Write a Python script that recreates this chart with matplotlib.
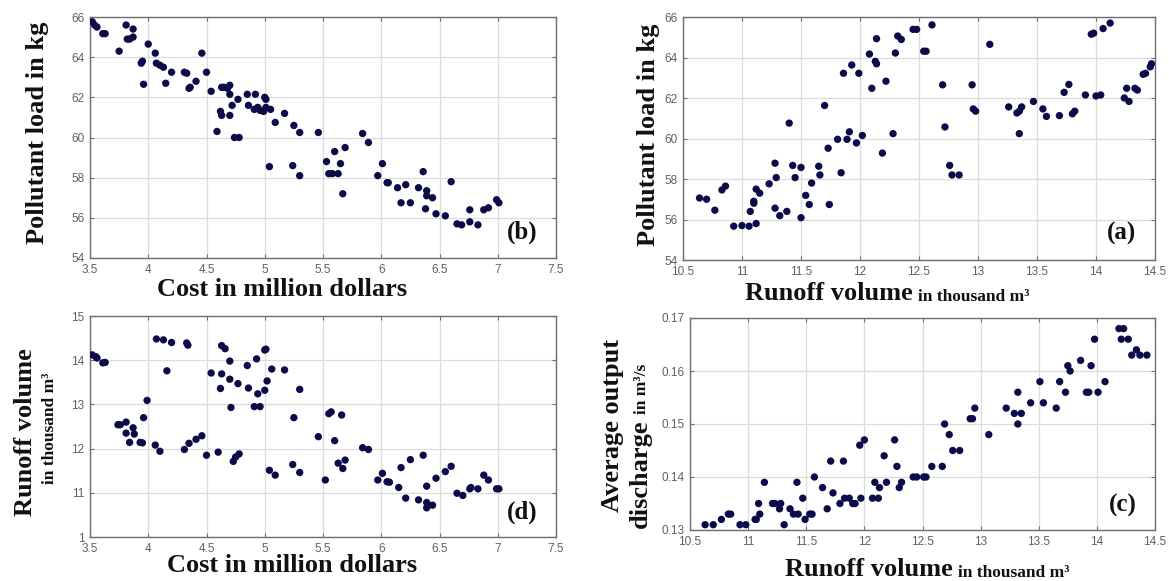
import matplotlib
matplotlib.use("Agg")
import matplotlib.pyplot as plt
from matplotlib.text import Annotation

# ---------------- data ----------------
# (b) Cost vs pollutant load
b_cost = [3.52, 3.54, 3.56, 3.61, 3.63, 3.75, 3.81, 3.82, 3.84, 3.87, 3.87, 3.94, 3.95, 3.96,
          4.00, 4.06, 4.07, 4.10, 4.13, 4.15, 4.20, 4.31, 4.33, 4.35, 4.36, 4.41, 4.46, 4.50,
          4.54, 4.59, 4.62, 4.63, 4.63, 4.65, 4.68, 4.70, 4.70, 4.70, 4.72, 4.74, 4.78, 4.77,
          4.85, 4.86, 4.92, 4.91, 4.94, 4.96, 4.99, 5.00, 5.01, 5.01, 5.04, 5.05, 5.09, 5.17,
          5.25, 5.24, 5.30, 5.30, 5.46, 5.53, 5.55, 5.58, 5.60, 5.63, 5.65, 5.67, 5.69, 5.84,
          5.89, 5.97, 6.01, 6.05, 6.06, 6.14, 6.17, 6.21, 6.25, 6.32, 6.36, 6.39, 6.39, 6.38,
          6.44, 6.47, 6.55, 6.60, 6.65, 6.69, 6.76, 6.76, 6.83, 6.88, 6.92, 6.99, 7.01]
b_load = [65.76, 65.6, 65.5, 65.17, 65.17, 64.3, 65.6, 64.9, 64.9, 65.4, 65.0, 63.7, 63.8, 62.65,
          64.65, 64.2, 63.7, 63.6, 63.5, 62.7, 63.25, 63.25, 63.2, 62.45, 62.5, 62.8, 64.2, 63.25,
          62.3, 60.3, 61.3, 61.1, 62.5, 62.5, 62.45, 62.6, 62.15, 61.1, 61.6, 60.0, 60.0, 61.9,
          62.15, 61.6, 62.15, 61.4, 61.5, 61.35, 61.3, 62.0, 61.9, 61.5, 58.55, 61.4, 60.75, 61.2,
          60.6, 58.6, 60.25, 58.1, 60.25, 58.8, 58.2, 58.2, 59.3, 58.2, 58.7, 57.2, 59.5, 60.2,
          59.75, 58.1, 58.7, 57.75, 57.75, 57.5, 56.75, 57.65, 56.75, 57.5, 58.3, 57.35, 57.1, 56.45,
          57.0, 56.2, 56.1, 57.8, 55.7, 55.65, 56.4, 55.8, 55.65, 56.4, 56.5, 56.9, 56.75]

# (a) Runoff volume vs pollutant load
a_runoff = [10.64, 10.70, 10.77, 10.83, 10.86, 10.93, 11.00, 11.06, 11.07, 11.10, 11.10, 11.12,
            11.12, 11.15, 11.23, 11.28, 11.28, 11.29, 11.32, 11.38, 11.40, 11.43, 11.45, 11.50,
            11.50, 11.54, 11.57, 11.59, 11.65, 11.66, 11.70, 11.73, 11.74, 11.81, 11.84, 11.86,
            11.89, 11.91, 11.93, 11.97, 11.99, 12.02, 12.08, 12.10, 12.13, 12.14, 12.14, 12.19,
            12.22, 12.28, 12.30, 12.32, 12.35, 12.45, 12.48, 12.54, 12.56, 12.61, 12.70, 12.72,
            12.76, 12.78, 12.84, 12.95, 12.96, 12.98, 13.10, 13.26, 13.33, 13.35, 13.35, 13.37,
            13.47, 13.55, 13.58, 13.69, 13.73, 13.77, 13.80, 13.82, 13.91, 13.96, 13.98, 14.00,
            14.04, 14.06, 14.12, 14.24, 14.26, 14.28, 14.33, 14.35, 14.40, 14.42, 14.46, 14.47]
a_load = [57.06, 57.0, 56.46, 57.46, 57.65, 55.67, 55.7, 55.67, 56.4, 56.8, 56.9, 55.8,
          57.5, 57.3, 57.76, 58.78, 56.56, 58.07, 56.19, 56.4, 60.76, 58.67, 58.07, 56.09,
          58.57, 57.19, 56.74, 57.8, 58.63, 58.2, 61.63, 59.52, 56.74, 59.96, 58.31, 63.22,
          59.96, 60.33, 63.63, 59.78, 63.22, 60.15, 64.17, 62.48, 63.81, 64.93, 63.69, 59.28,
          62.83, 60.24, 64.22, 65.06, 64.89, 65.39, 65.39, 64.31, 64.31, 65.61, 62.65, 60.57,
          58.67, 58.2, 58.2, 62.65, 61.46, 61.35, 64.65, 61.56, 61.26, 61.35, 60.24, 61.56,
          61.83, 61.46, 61.09, 61.13, 62.28, 62.67, 61.22, 61.35, 62.15, 65.15, 65.2, 62.1,
          62.15, 65.43, 65.7, 62.0, 62.48, 61.83, 62.48, 62.39, 63.17, 63.22, 63.54, 63.69]

# (d) Cost vs runoff volume
d_cost = [3.52, 3.55, 3.56, 3.61, 3.63, 3.74, 3.76, 3.81, 3.81, 3.84, 3.87, 3.88, 3.93, 3.95,
          3.96, 3.99, 4.06, 4.07, 4.10, 4.13, 4.16, 4.20, 4.31, 4.33, 4.34, 4.35, 4.41, 4.46,
          4.50, 4.54, 4.60, 4.62, 4.63, 4.63, 4.66, 4.70, 4.70, 4.71, 4.73, 4.75, 4.78, 4.77,
          4.85, 4.86, 4.91, 4.93, 4.94, 4.96, 5.00, 5.00, 5.01, 5.02, 5.04, 5.06, 5.09, 5.17,
          5.25, 5.24, 5.30, 5.30, 5.46, 5.52, 5.55, 5.57, 5.60, 5.63, 5.66, 5.67, 5.69, 5.84,
          5.89, 5.97, 6.01, 6.05, 6.07, 6.15, 6.17, 6.21, 6.25, 6.32, 6.36, 6.39, 6.39, 6.39,
          6.44, 6.47, 6.55, 6.60, 6.65, 6.70, 6.76, 6.77, 6.83, 6.88, 6.92, 6.99, 7.01]
d_runoff = [14.12, 14.08, 14.05, 13.94, 13.95, 12.54, 12.54, 12.6, 12.35, 12.14, 12.47, 12.33, 12.14, 12.13,
            12.7, 13.09, 12.08, 14.48, 11.94, 14.46, 13.76, 14.4, 11.98, 14.39, 14.34, 12.12, 12.21, 12.29,
            11.85, 13.71, 11.92, 13.36, 13.69, 14.33, 14.26, 13.98, 13.57, 12.93, 11.71, 11.81, 11.88, 13.47,
            13.88, 13.37, 12.95, 14.03, 13.24, 12.95, 13.32, 14.23, 14.25, 13.53, 11.51, 13.8, 11.4, 13.78,
            12.7, 11.64, 13.34, 11.46, 12.27, 11.29, 12.79, 12.83, 12.18, 11.67, 12.76, 11.55, 11.74, 12.02,
            11.98, 11.29, 11.44, 11.25, 11.24, 11.12, 11.57, 10.88, 11.75, 10.84, 11.85, 10.78, 11.15, 10.66,
            10.72, 11.33, 11.48, 11.6, 10.99, 10.94, 11.09, 11.12, 11.09, 11.4, 11.29, 11.09, 11.09]

# (c) Runoff volume vs average output discharge
c_runoff = [10.63, 10.70, 10.77, 10.83, 10.85, 10.93, 10.98, 11.06, 11.07, 11.09, 11.10, 11.14,
            11.21, 11.23, 11.27, 11.28, 11.31, 11.36, 11.39, 11.42, 11.43, 11.47, 11.49, 11.53,
            11.55, 11.57, 11.64, 11.68, 11.71, 11.73, 11.79, 11.82, 11.83, 11.87, 11.90, 11.92,
            11.97, 11.96, 12.00, 12.07, 12.09, 12.12, 12.13, 12.17, 12.19, 12.26, 12.28, 12.30,
            12.32, 12.42, 12.45, 12.51, 12.53, 12.58, 12.67, 12.69, 12.73, 12.76, 12.82, 12.91,
            12.93, 12.95, 13.07, 13.22, 13.29, 13.32, 13.32, 13.35, 13.43, 13.51, 13.54, 13.65,
            13.68, 13.73, 13.75, 13.77, 13.86, 13.91, 13.93, 13.95, 13.98, 14.01, 14.07, 14.19,
            14.23, 14.21, 14.27, 14.30, 14.34, 14.37, 14.43]
c_discharge = [0.131, 0.131, 0.132, 0.133, 0.133, 0.131, 0.131, 0.132, 0.132, 0.135, 0.133, 0.139,
               0.135, 0.135, 0.134, 0.135, 0.131, 0.134, 0.133, 0.139, 0.133, 0.136, 0.132, 0.133,
               0.133, 0.140, 0.138, 0.134, 0.143, 0.137, 0.135, 0.143, 0.136, 0.136, 0.135, 0.135,
               0.136, 0.146, 0.147, 0.136, 0.139, 0.136, 0.138, 0.144, 0.139, 0.147, 0.142, 0.138,
               0.139, 0.140, 0.140, 0.140, 0.140, 0.142, 0.142, 0.150, 0.148, 0.145, 0.145, 0.151,
               0.151, 0.153, 0.148, 0.153, 0.152, 0.156, 0.150, 0.152, 0.154, 0.158, 0.154, 0.153,
               0.158, 0.156, 0.161, 0.160, 0.162, 0.156, 0.156, 0.161, 0.166, 0.156, 0.158, 0.168,
               0.168, 0.166, 0.166, 0.163, 0.164, 0.163, 0.163]

cost_ticks = [3.5, 4, 4.5, 5, 5.5, 6, 6.5, 7, 7.5]
cost_ticklabels = ["3.5", "4", "4.5", "5", "5.5", "6", "6.5", "7", "7.5"]
runoff_ticks = [10.5, 11, 11.5, 12, 12.5, 13, 13.5, 14, 14.5]
runoff_ticklabels = ["10.5", "11", "11.5", "12", "12.5", "13", "13.5", "14", "14.5"]
load_ticks = [54, 56, 58, 60, 62, 64, 66]
load_ticklabels = ["54", "56", "58", "60", "62", "64", "66"]
vol_ticks = [10, 11, 12, 13, 14, 15]
vol_ticklabels = ["1", "11", "12", "13", "14", "15"]
dis_ticks = [0.13, 0.14, 0.15, 0.16, 0.17]
dis_ticklabels = ["0.13", "0.14", "0.15", "0.16", "0.17"]

# ---------------- style ----------------
W, H = 1169, 581
DOT = "#0b0b4a"
INK = "#111111"
SERIF = ["Liberation Serif", "DejaVu Serif"]
SANS = ["Liberation Sans", "DejaVu Sans"]
BIG = 19
SMALL = 12.5
MS = 28

fig = plt.figure(figsize=(W / 100, H / 100), dpi=100)
fig.patch.set_facecolor("white")


def frac(x0, y0, x1, y1):
    return [x0 / W, 1 - y1 / H, (x1 - x0) / W, (y1 - y0) / H]


def style_axes(ax, xlim, ylim, xt, xtl, yt, ytl, letter):
    ax.set_xlim(*xlim)
    ax.set_ylim(*ylim)
    ax.set_xticks(xt)
    ax.set_xticklabels(xtl)
    ax.set_yticks(yt)
    ax.set_yticklabels(ytl)
    ax.grid(True, color="#dcdcdc", linewidth=0.9)
    ax.set_axisbelow(True)
    for s in ax.spines.values():
        s.set_color("#6e6e6e")
        s.set_linewidth(1.0)
    ax.tick_params(direction="in", length=3, width=0.8, color="#6e6e6e",
                   top=True, right=True, labelsize=8.5, labelcolor="#606060", pad=4)
    for lab in ax.get_xticklabels() + ax.get_yticklabels():
        lab.set_family(SANS)
    ax.text(0.96, 0.06, letter, transform=ax.transAxes, ha="right", va="bottom",
            fontsize=18, fontweight="bold", family=SERIF, color=INK)


# (b)
axb = fig.add_axes(frac(90, 17, 556, 258))
axb.scatter(b_cost, b_load, s=MS, color=DOT, edgecolors="none", zorder=3)
style_axes(axb, (3.5, 7.5), (54, 66), cost_ticks, cost_ticklabels,
           load_ticks, load_ticklabels, "(b)")

# (a)
axa = fig.add_axes(frac(683, 17, 1155, 260))
axa.scatter(a_runoff, a_load, s=MS, color=DOT, edgecolors="none", zorder=3)
style_axes(axa, (10.5, 14.5), (54, 66), runoff_ticks, runoff_ticklabels,
           load_ticks, load_ticklabels, "(a)")

# (d)
axd = fig.add_axes(frac(90, 316, 556, 537))
axd.scatter(d_cost, d_runoff, s=MS, color=DOT, edgecolors="none", zorder=3)
style_axes(axd, (3.5, 7.5), (10, 15), cost_ticks, cost_ticklabels,
           vol_ticks, vol_ticklabels, "(d)")

# (c)
axc = fig.add_axes(frac(690, 318, 1155, 530))
axc.scatter(c_runoff, c_discharge, s=MS, color=DOT, edgecolors="none", zorder=3)
style_axes(axc, (10.5, 14.5), (0.13, 0.17), runoff_ticks, runoff_ticklabels,
           dis_ticks, dis_ticklabels, "(c)")


# ---------------- axis titles ----------------
def ftext(x, y, s, size=BIG, rot=0, ha="center", va="center"):
    return fig.text(x / W, 1 - y / H, s, fontsize=size, fontweight="bold",
                    family=SERIF, rotation=rot, ha=ha, va=va, color=INK)


def tail(prev, s, rotated=False):
    if rotated:
        ann = Annotation(s, xy=(1, 1), xycoords=prev, xytext=(-1, 4),
                         textcoords="offset points", rotation=90, ha="right",
                         va="bottom", fontsize=SMALL, fontweight="bold",
                         family=SERIF, color=INK)
    else:
        ann = Annotation(s, xy=(1, 0), xycoords=prev, xytext=(4, 0),
                         textcoords="offset points", ha="left", va="bottom",
                         fontsize=SMALL, fontweight="bold", family=SERIF, color=INK)
    fig.add_artist(ann)
    return ann


# (b)
ftext(38, 133, "Pollutant load in kg", rot=90)
ftext(282, 290, "Cost in million dollars")
# (a)
ftext(648, 135, "Pollutant load in kg", rot=90)
t = ftext(745, 300, "Runoff volume", ha="left", va="baseline")
tail(t, "in thousand m\u00b3")
# (d)
ftext(26, 432, "Runoff volume", rot=90)
ftext(50, 428, "in thousand m\u00b3", size=SMALL, rot=90)
ftext(292, 566, "Cost in million dollars")
# (c)
ftext(612, 425, "Average output", rot=90)
t2 = ftext(640, 528, "discharge", rot=90, ha="center", va="bottom")
tail(t2, "in m\u00b3/s", rotated=True)
t3 = ftext(785, 576, "Runoff volume", ha="left", va="baseline")
tail(t3, "in thousand m\u00b3")

fig.savefig("out.png", dpi=100, facecolor="white")
